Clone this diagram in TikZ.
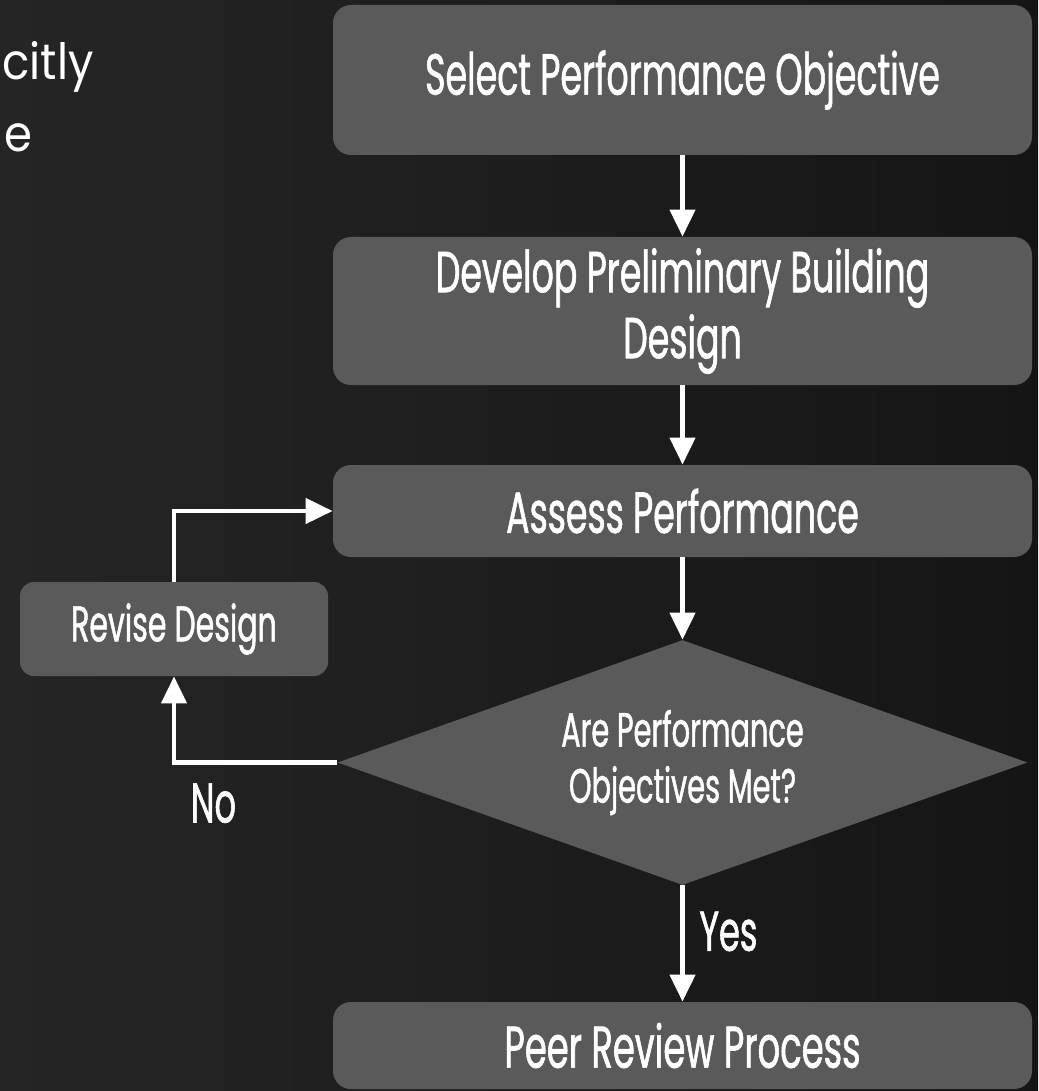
\documentclass[tikz,border=0pt]{standalone}
\usepackage{fontspec}
\usepackage{tikz}
\usetikzlibrary{shapes,arrows.meta,positioning}
\newfontfamily\condfont{Poppins}[FakeStretch=0.6, FakeBold=1]
\newfontfamily\slidefont{Poppins}[FakeStretch=0.9]
\definecolor{boxgray}{HTML}{5A5A5A}
\definecolor{slateleft}{HTML}{252525}
\definecolor{slateright}{HTML}{151515}
\tikzstyle{procbox}=[rectangle, rounded corners=9pt, fill=boxgray, text=white, inner sep=0pt, minimum width=349.5pt, align=center, font=\condfont\fontsize{29}{33}\selectfont]
\tikzstyle{decision}=[diamond, fill=boxgray, inner sep=0pt, minimum width=345pt, minimum height=122.5pt]
\tikzstyle{decisiontext}=[text=white, align=center, font=\condfont\fontsize{24}{28}\selectfont]
\tikzstyle{flow}=[draw=white, line width=2.25pt, -{Triangle[width=12.5pt,length=13.5pt]}]
\tikzstyle{flowlabel}=[text=white, font=\condfont\fontsize{28}{30}\selectfont]

\begin{document}
\begin{tikzpicture}[x=0.5pt, y=-0.5pt]
	% slate background
	\shade[left color=slateleft, right color=slateright] (0,0) rectangle (1038,1091);
	\useasboundingbox (0,0) rectangle (1038,1091);
	% left column text running off the slide
	\node[text=white, anchor=base west, inner sep=0pt, font=\slidefont\fontsize{25}{36}\selectfont] (txtA) at (2,80) {citly};
	\node[text=white, anchor=base west, inner sep=0pt, font=\slidefont\fontsize{25}{36}\selectfont] (txtB) at (4,152) {e};
	% process steps
	\node[procbox, minimum height=75pt] (select) at (682.5,80) {Select Performance Objective};
	\node[procbox, minimum height=74pt] (develop) at (682.5,311) {Develop Preliminary Building\\Design};
	\node[procbox, minimum height=46pt] (assess) at (682.5,511) {Assess Performance};
	\node[decision] (check) at (682.5,762.5) {};
	\node[decisiontext] (checktext) at (check.center) {Are Performance\\Objectives Met?};
	\node[procbox, minimum height=43.5pt, font=\condfont\fontsize{29.5}{33}\selectfont] (peer) at (682.5,1045.5) {Peer Review Process};
	\node[procbox, minimum width=154pt, minimum height=47pt, rounded corners=7pt, font=\condfont\fontsize{25}{28}\selectfont] (revise) at (174,629) {Revise Design};
	% connectors
	\draw[flow] (select) -- (develop);
	\draw[flow] (develop) -- (assess);
	\draw[flow] (assess) -- (check);
	\draw[flow] (check) -- node[flowlabel, right=4pt, yshift=6pt] {Yes} (peer);
	\draw[flow] (check.west) -| node[flowlabel, pos=0.5, below right=6pt and 4pt] {No} (revise.south);
	\draw[flow] (revise.north) |- (assess.west);
\end{tikzpicture}
\end{document}
